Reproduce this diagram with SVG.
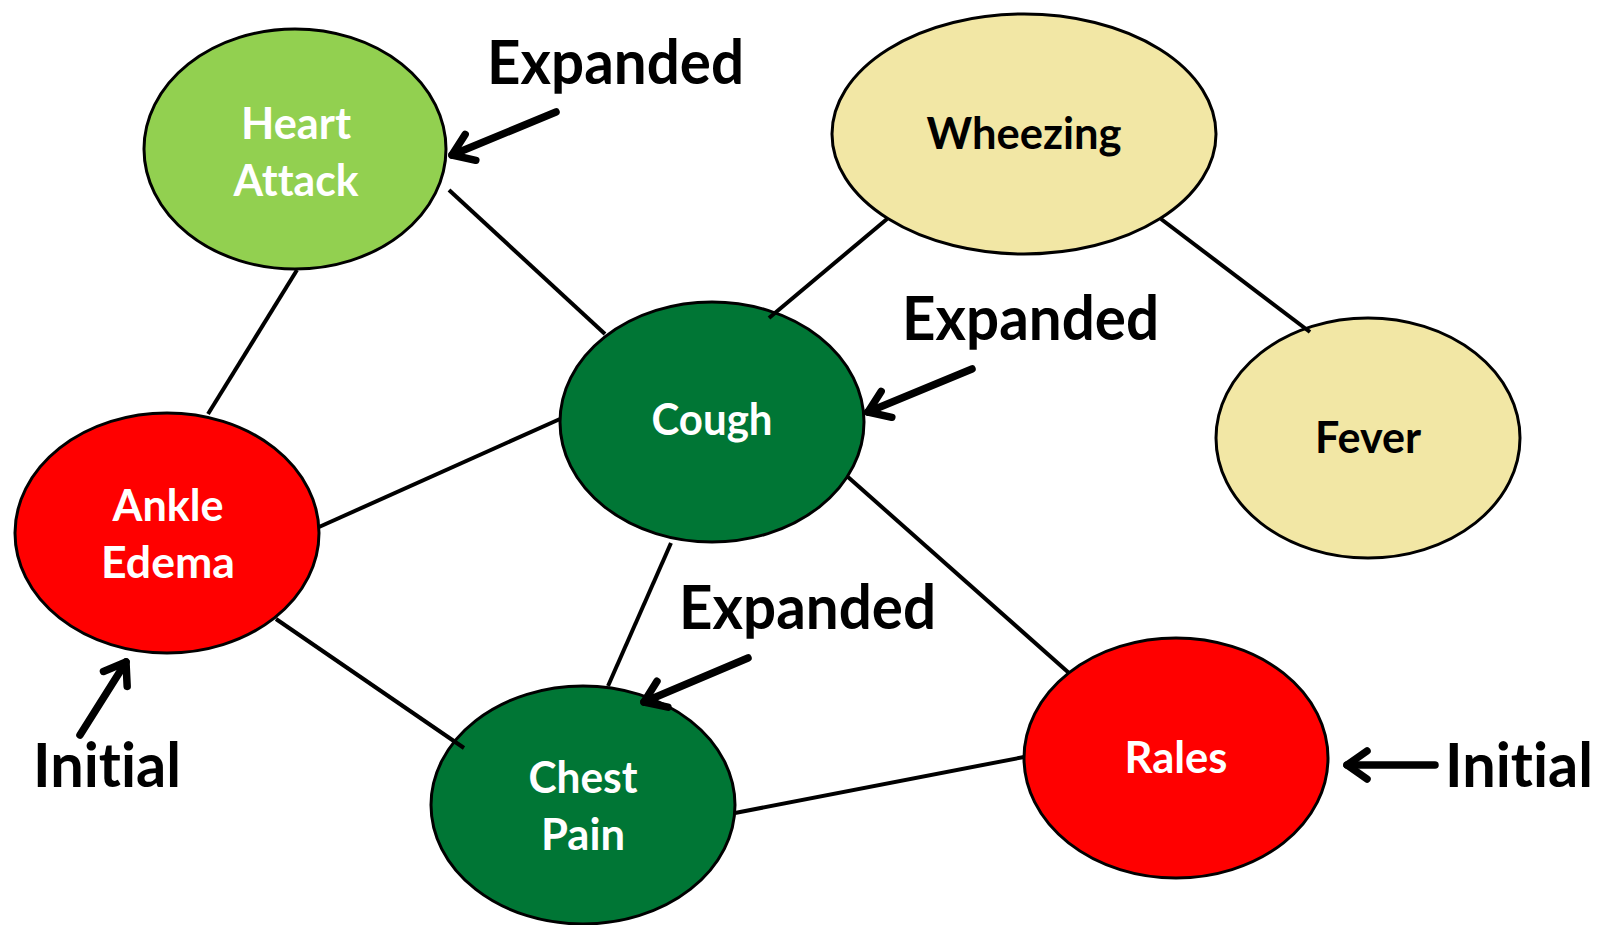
<svg xmlns="http://www.w3.org/2000/svg" width="1599" height="925" viewBox="0 0 1599 925">
  <defs>
    <style>
      .node { stroke: #000; stroke-width: 3; }
      .edge { stroke: #000; stroke-width: 4; fill: none; }
      .pointer { stroke: #000; stroke-width: 7.5; fill: none; stroke-linecap: round; marker-end: url(#head); }
      .lbl { font-family: Lato, "Open Sans", "Liberation Sans", sans-serif; font-weight: 700; font-size: 43px; text-anchor: middle; font-variant-ligatures: none; }
      .light { fill: #fff; }
      .dark { fill: #000; }
      .note { font-family: Lato, "Open Sans", "Liberation Sans", sans-serif; font-weight: 700; font-size: 62px; fill: #000; font-variant-ligatures: none; }
    </style>
    <marker id="head" markerUnits="userSpaceOnUse" markerWidth="44" markerHeight="44" viewBox="0 0 44 44" refX="28" refY="22" orient="auto">
      <path d="M8,8 L28,22 L8,36" fill="none" stroke="#000" stroke-width="7.5" stroke-linecap="round" stroke-linejoin="round"/>
    </marker>
  </defs>
  <rect width="1599" height="925" fill="#fff"/>

  <!-- nodes -->
  <g id="heart-attack">
    <ellipse class="node" cx="295" cy="149" rx="151" ry="120" fill="#92D050"/>
    <text class="lbl light" x="296" y="139" textLength="110" lengthAdjust="spacingAndGlyphs">Heart</text>
    <text class="lbl light" x="296" y="196" textLength="125" lengthAdjust="spacingAndGlyphs">Attack</text>
  </g>
  <g id="wheezing">
    <ellipse class="node" cx="1024" cy="134" rx="192" ry="120" fill="#F2E7A5"/>
    <text class="lbl dark" x="1024" y="149" textLength="195" lengthAdjust="spacingAndGlyphs">Wheezing</text>
  </g>
  <g id="cough">
    <ellipse class="node" cx="712" cy="422" rx="152" ry="120" fill="#007635"/>
    <text class="lbl light" x="712" y="435" textLength="121" lengthAdjust="spacingAndGlyphs">Cough</text>
  </g>
  <g id="fever">
    <ellipse class="node" cx="1368" cy="438" rx="152" ry="120" fill="#F2E7A5"/>
    <text class="lbl dark" x="1368" y="453" textLength="106" lengthAdjust="spacingAndGlyphs">Fever</text>
  </g>
  <g id="ankle-edema">
    <ellipse class="node" cx="167" cy="533" rx="152" ry="120" fill="#FF0000"/>
    <text class="lbl light" x="168" y="521" textLength="111" lengthAdjust="spacingAndGlyphs">Ankle</text>
    <text class="lbl light" x="168" y="578" textLength="134" lengthAdjust="spacingAndGlyphs">Edema</text>
  </g>
  <g id="chest-pain">
    <ellipse class="node" cx="583" cy="805" rx="152" ry="119" fill="#007635"/>
    <text class="lbl light" x="583" y="793" textLength="109" lengthAdjust="spacingAndGlyphs">Chest</text>
    <text class="lbl light" x="583" y="850" textLength="84" lengthAdjust="spacingAndGlyphs">Pain</text>
  </g>
  <g id="rales">
    <ellipse class="node" cx="1176" cy="758" rx="152" ry="120" fill="#FF0000"/>
    <text class="lbl light" x="1176" y="773" textLength="103" lengthAdjust="spacingAndGlyphs">Rales</text>
  </g>

  <!-- connectors -->
  <g id="connectors">
    <line class="edge" x1="297" y1="270" x2="208" y2="414"/>
    <line class="edge" x1="449" y1="190" x2="605" y2="334"/>
    <line class="edge" x1="887" y1="219" x2="769" y2="318"/>
    <line class="edge" x1="1161" y1="219" x2="1310" y2="332"/>
    <line class="edge" x1="319" y1="527" x2="560" y2="419"/>
    <line class="edge" x1="276" y1="619" x2="464" y2="748"/>
    <line class="edge" x1="671" y1="543" x2="608" y2="686"/>
    <line class="edge" x1="848" y1="477" x2="1069" y2="673"/>
    <line class="edge" x1="735" y1="813" x2="1024" y2="757"/>
  </g>

  <!-- annotations -->
  <g id="annotations">
    <text class="note" x="487" y="84" textLength="257" lengthAdjust="spacingAndGlyphs">Expanded</text>
    <line class="pointer" x1="556" y1="112" x2="452" y2="155"/>
    <text class="note" x="902" y="340" textLength="257" lengthAdjust="spacingAndGlyphs">Expanded</text>
    <line class="pointer" x1="972" y1="369" x2="868" y2="412"/>
    <text class="note" x="679" y="629" textLength="257" lengthAdjust="spacingAndGlyphs">Expanded</text>
    <line class="pointer" x1="748" y1="658" x2="644" y2="702"/>
    <text class="note" x="33" y="787" textLength="148" lengthAdjust="spacingAndGlyphs">Initial</text>
    <line class="pointer" x1="80" y1="735" x2="126" y2="662"/>
    <text class="note" x="1445" y="787" textLength="148" lengthAdjust="spacingAndGlyphs">Initial</text>
    <line class="pointer" x1="1435" y1="765" x2="1347" y2="765"/>
  </g>
</svg>
